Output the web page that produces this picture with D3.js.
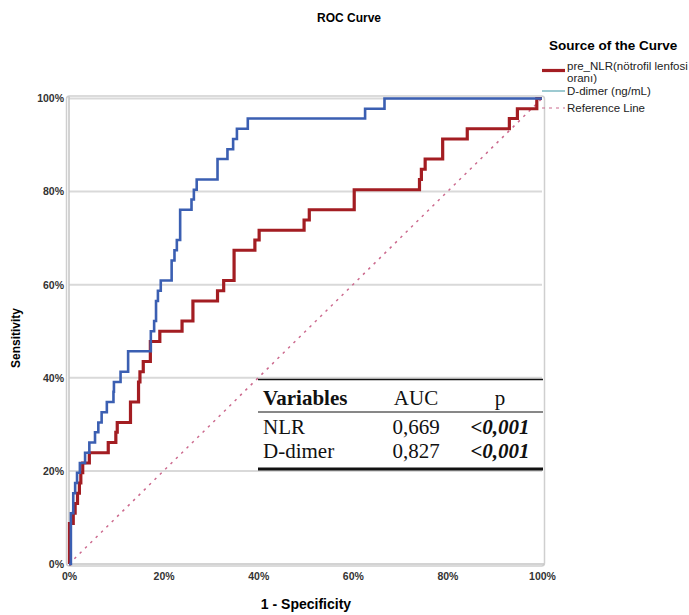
<!DOCTYPE html>
<html>
<head>
<meta charset="utf-8">
<script src="https://cdn.jsdelivr.net/npm/d3@7"></script>
<style>
  body { margin: 0; background: #fff; }
  text { font-family: "Liberation Sans", Arial, sans-serif; }
</style>
</head>
<body>
<div id="chart"></div>
<script>
// ROC points (1 - specificity, sensitivity)
const dimerFpr = [0, 0.004, 0.009, 0.013, 0.017, 0.020, 0.023, 0.034, 0.043, 0.055, 0.062, 0.069, 0.080, 0.094, 0.095, 0.109, 0.125, 0.173, 0.180, 0.184, 0.188, 0.194, 0.217, 0.223, 0.228, 0.235, 0.259, 0.264, 0.270, 0.314, 0.335, 0.347, 0.355, 0.378, 0.626, 0.667, 1];
const dimerTpr = [0, 0.109, 0.152, 0.174, 0.196, 0.196, 0.217, 0.239, 0.261, 0.283, 0.304, 0.326, 0.348, 0.370, 0.391, 0.413, 0.457, 0.500, 0.522, 0.565, 0.587, 0.609, 0.652, 0.674, 0.696, 0.761, 0.783, 0.804, 0.826, 0.870, 0.891, 0.913, 0.935, 0.957, 0.978, 1, 1];

const nlrFpr = [0, 0.001, 0.009, 0.013, 0.018, 0.022, 0.025, 0.029, 0.043, 0.083, 0.099, 0.102, 0.130, 0.147, 0.150, 0.157, 0.172, 0.192, 0.239, 0.262, 0.314, 0.327, 0.349, 0.393, 0.402, 0.497, 0.508, 0.603, 0.741, 0.745, 0.753, 0.790, 0.842, 0.931, 0.948, 0.989, 1];
const nlrTpr = [0, 0.087, 0.109, 0.130, 0.152, 0.174, 0.196, 0.217, 0.239, 0.261, 0.283, 0.304, 0.348, 0.391, 0.413, 0.435, 0.478, 0.500, 0.522, 0.565, 0.587, 0.609, 0.674, 0.696, 0.717, 0.739, 0.761, 0.804, 0.826, 0.848, 0.870, 0.913, 0.935, 0.957, 0.978, 1, 1];

const tickValues = [0, 0.2, 0.4, 0.6, 0.8, 1];

const tableHeader = ["Variables", "AUC", "p"];
const tableRows = [
    ["NLR", "0,669", "<0,001"],
    ["D-dimer", "0,827", "<0,001"]
];

const legendLabels = [["pre_NLR(nötrofil lenfosi", "oranı)"], ["D-dimer (ng/mL)"], ["Reference Line"]];

const width = 689, height = 615;

const svg = d3.select("#chart")
    .append("svg")
    .attr("width", width)
    .attr("height", height);

const x = d3.scaleLinear().domain([0, 1]).range([69, 542]);
const y = d3.scaleLinear().domain([0, 1]).range([564, 98.5]);

// plot frame
svg.append("rect")
    .attr("x", 66.5).attr("y", 96)
    .attr("width", 478).attr("height", 470)
    .attr("rx", 3)
    .attr("fill", "none")
    .attr("stroke", "#cfcfcf")
    .attr("stroke-width", 1.5);

// horizontal gridlines
svg.append("g")
    .selectAll("line")
    .data(tickValues.slice(1))
    .enter().append("line")
    .attr("x1", x(0)).attr("x2", x(1))
    .attr("y1", d => y(d)).attr("y2", d => y(d))
    .attr("stroke", "#d9d9d9")
    .attr("stroke-width", 2);

// axis lines
svg.append("line")
    .attr("x1", x(0)).attr("x2", x(0))
    .attr("y1", y(0)).attr("y2", y(1) - 2)
    .attr("stroke", "#c4c4c4").attr("stroke-width", 1.5);
svg.append("line")
    .attr("x1", x(0)).attr("x2", x(1) + 2)
    .attr("y1", y(0)).attr("y2", y(0))
    .attr("stroke", "#c4c4c4").attr("stroke-width", 1.5);

// tick labels
const fmt = d3.format(".0%");
const xAxis = svg.append("g")
    .attr("transform", `translate(0,${y(0)})`)
    .call(d3.axisBottom(x).tickValues(tickValues).tickFormat(fmt).tickSize(0).tickPadding(9));
const yAxis = svg.append("g")
    .attr("transform", `translate(${x(0)},0)`)
    .call(d3.axisLeft(y).tickValues(tickValues).tickFormat(fmt).tickSize(0).tickPadding(5));
[xAxis, yAxis].forEach(g => {
    g.select(".domain").remove();
    g.selectAll("text")
        .style("font-family", "'Liberation Sans', Arial, sans-serif")
        .style("font-size", "10.5px")
        .style("font-weight", "bold")
        .attr("fill", "#333");
});

// reference line
svg.append("line")
    .attr("x1", x(0)).attr("y1", y(0))
    .attr("x2", x(1)).attr("y2", y(1))
    .attr("stroke", "#cc6a8e")
    .attr("stroke-width", 1.5)
    .attr("stroke-dasharray", "2.5,5");

const line = d3.line()
    .x(d => x(d[0]))
    .y(d => y(d[1]))
    .curve(d3.curveStepAfter);

svg.append("path")
    .datum(nlrFpr.map((f, i) => [f, nlrTpr[i]]))
    .attr("d", line)
    .attr("fill", "none")
    .attr("stroke", "#a31d22")
    .attr("stroke-width", 3.2);

svg.append("path")
    .datum(dimerFpr.map((f, i) => [f, dimerTpr[i]]))
    .attr("d", line)
    .attr("fill", "none")
    .attr("stroke", "#3b5fb2")
    .attr("stroke-width", 2.6);

// title and axis labels
svg.append("text")
    .attr("x", 349).attr("y", 22)
    .attr("text-anchor", "middle")
    .style("font-size", "12px").style("font-weight", "bold")
    .text("ROC Curve");

svg.append("text")
    .attr("x", 306).attr("y", 609)
    .attr("text-anchor", "middle")
    .style("font-size", "14px").style("font-weight", "bold")
    .text("1 - Specificity");

svg.append("text")
    .attr("transform", "rotate(-90)")
    .attr("x", -338).attr("y", 20)
    .attr("text-anchor", "middle")
    .style("font-size", "12px").style("font-weight", "bold")
    .text("Sensitivity");

// legend
svg.append("text")
    .attr("x", 549).attr("y", 50)
    .style("font-size", "13.5px").style("font-weight", "bold")
    .text("Source of the Curve");

const legendStyles = [
    {color: "#a31d22", width: 3.2, dash: null, y: 70.5},
    {color: "#7db8c2", width: 1.5, dash: null, y: 91},
    {color: "#cc6a8e", width: 1.2, dash: "3,4", y: 108}
];
legendStyles.forEach((s, i) => {
    svg.append("line")
        .attr("x1", 542).attr("x2", 565)
        .attr("y1", s.y).attr("y2", s.y)
        .attr("stroke", s.color)
        .attr("stroke-width", s.width)
        .attr("stroke-dasharray", s.dash);
    const t = svg.append("text")
        .attr("x", 567)
        .attr("y", s.y + (i === 0 ? -0.5 : 3.5))
        .style("font-size", "11.5px")
        .attr("fill", "#222");
    legendLabels[i].forEach((lbl, j) => {
        t.append("tspan")
            .attr("x", 567)
            .attr("dy", j === 0 ? 0 : 12)
            .text(lbl);
    });
});

// AUC table
const table = svg.append("g");
table.append("rect")
    .attr("x", 258).attr("y", 379)
    .attr("width", 285).attr("height", 91)
    .attr("fill", "#fff");
table.append("line")
    .attr("x1", 258).attr("x2", 543).attr("y1", 379.5).attr("y2", 379.5)
    .attr("stroke", "#111").attr("stroke-width", 1.5);
table.append("line")
    .attr("x1", 258).attr("x2", 543).attr("y1", 412).attr("y2", 412)
    .attr("stroke", "#111").attr("stroke-width", 1);
table.append("line")
    .attr("x1", 258).attr("x2", 543).attr("y1", 469).attr("y2", 469)
    .attr("stroke", "#111").attr("stroke-width", 3);

const colX = [263, 416, 500];
const colAnchor = ["start", "middle", "middle"];
const rowY = [405, 434, 458];
const serif = "'Liberation Serif', 'Times New Roman', serif";

tableHeader.forEach((h, c) => {
    table.append("text")
        .attr("x", colX[c]).attr("y", rowY[0])
        .attr("text-anchor", colAnchor[c])
        .style("font-family", serif)
        .style("font-size", "21px")
        .style("font-weight", c === 0 ? "bold" : "normal")
        .attr("fill", "#111")
        .text(h);
});
tableRows.forEach((row, r) => {
    row.forEach((v, c) => {
        table.append("text")
            .attr("x", colX[c]).attr("y", rowY[r + 1])
            .attr("text-anchor", colAnchor[c])
            .style("font-family", serif)
            .style("font-size", "21px")
            .style("font-weight", c === 2 ? "bold" : "normal")
            .style("font-style", c === 2 ? "italic" : "normal")
            .attr("fill", "#111")
            .text(v);
    });
});
</script>
</body>
</html>
